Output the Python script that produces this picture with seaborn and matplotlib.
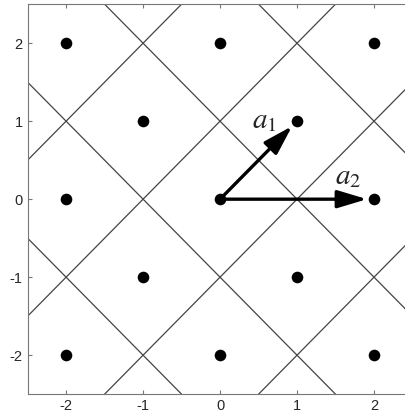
import numpy as np
import pandas as pd
import matplotlib
matplotlib.use("Agg")
import matplotlib.pyplot as plt
import seaborn as sns

# lattice points
pts_x = [-2, 0, 2, -1, 1, -2, 0, 2, -1, 1, -2, 0, 2]
pts_y = [2, 2, 2, 1, 1, 0, 0, 0, -1, -1, -2, -2, -2]

# Voronoi cell boundaries: x+y = c and x-y = c
line_offsets = [-5, -3, -1, 1, 3, 5]

# basis vectors
vec_names = ["a_1", "a_2"]
vec_x = [1, 2]
vec_y = [1, 0]
label_x = [0.57, 1.66]
label_y = [1.02, 0.29]

ticks = [-2, -1, 0, 1, 2]

sns.set_style("ticks")
plt.rcParams["font.family"] = ["Liberation Sans", "DejaVu Sans"]
plt.rcParams["mathtext.fontset"] = "stix"
plt.rcParams["axes.unicode_minus"] = False

fig = plt.figure(figsize=(4.06, 4.18), dpi=100)
ax = fig.add_axes([0.068, 0.057, 0.948, 0.933])

for c in line_offsets:
    ax.axline((0, c), slope=-1, color="#444444", lw=0.9)
    ax.axline((0, -c), slope=1, color="#444444", lw=0.9)

df = pd.DataFrame({"x": pts_x, "y": pts_y})
sns.scatterplot(data=df, x="x", y="y", color="black", s=70,
                edgecolor="black", linewidth=0, ax=ax, zorder=5)

for name, vx, vy, lx, ly in zip(vec_names, vec_x, vec_y, label_x, label_y):
    ax.annotate("", xy=(vx, vy), xytext=(0, 0),
                arrowprops=dict(arrowstyle="-|>,head_length=1.5,head_width=0.45",
                                mutation_scale=12, color="black", lw=2.4,
                                shrinkA=0, shrinkB=5),
                zorder=6)
    ax.text(lx, ly, "$" + name + "$", fontsize=21, ha="center", va="center")

ax.set_xlim(-2.5, 2.5)
ax.set_ylim(-2.5, 2.5)
ax.set_xticks(ticks)
ax.set_yticks(ticks)
ax.set_xlabel("")
ax.set_ylabel("")
ax.tick_params(direction="in", length=3, labelsize=10.5, color="#777777",
               top=True, right=True)
for s in ax.spines.values():
    s.set_color("#777777")
    s.set_linewidth(0.8)

fig.savefig("out.png", dpi=100)
